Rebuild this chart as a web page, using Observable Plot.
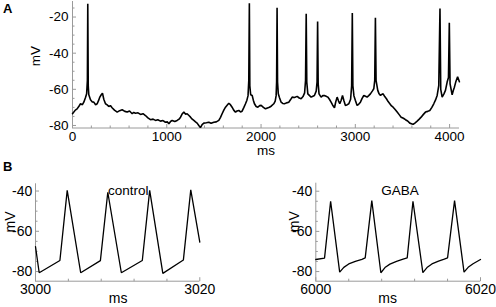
<!DOCTYPE html>
<html><head><meta charset="utf-8">
<script src="https://cdn.jsdelivr.net/npm/d3@7"></script>
<script src="https://cdn.jsdelivr.net/npm/@observablehq/plot@0.6"></script>
<style>
body{margin:0;background:#fff;}
#wrap{position:relative;width:496px;height:307px;overflow:hidden;font-family:"Liberation Sans",Arial,sans-serif;background:#fff;}
.lab{position:absolute;font-weight:bold;font-size:13px;line-height:13px;color:#000;}
</style></head><body><div id="wrap"></div>
<script>
// Panel A: membrane potential trace (ms, mV)
const aTime = [0,14,30,49,70,85,105,120,138,150,158,162,167,173,191,210,226,245,262,278,290,305,318,332,350,368,385,402,420,445,474,500,527,555,580,605,633,650,668,695,721,748,774,800,827,855,880,905,933,960,986,1005,1022,1040,1057,1085,1110,1130,1146,1165,1181,1200,1216,1235,1252,1270,1287,1305,1322,1340,1357,1375,1393,1420,1446,1470,1499,1525,1552,1570,1587,1605,1623,1640,1658,1675,1693,1710,1729,1745,1764,1782,1799,1818,1835,1850,1862,1870,1876,1881,1890,1906,1918,1930,1948,1966,1985,2001,2025,2047,2068,2089,2110,2135,2150,2160,2165,2170,2175,2183,2195,2213,2230,2248,2270,2294,2312,2330,2355,2383,2405,2425,2445,2462,2472,2479,2485,2496,2515,2531,2550,2566,2585,2594,2600,2606,2615,2637,2655,2672,2690,2708,2725,2743,2760,2779,2792,2807,2822,2835,2850,2864,2880,2895,2915,2931,2950,2961,2968,2974,2985,3000,3019,3035,3054,3072,3090,3108,3125,3142,3160,3180,3196,3206,3213,3220,3238,3252,3267,3280,3295,3312,3330,3348,3366,3384,3401,3420,3444,3465,3486,3510,3532,3555,3578,3595,3613,3635,3656,3678,3698,3720,3744,3768,3790,3812,3832,3850,3868,3885,3898,3906,3921,3940,3956,3974,3988,3997,4005,4027,4040,4051,4065,4085,4104];
const aMV = [-73.5,-72.6,-71.5,-70.8,-69.2,-68.0,-68.5,-67.1,-64.5,-62.5,-55,-12.7,-58,-63.0,-65.8,-67.0,-67.1,-68.5,-68.0,-66.0,-64.3,-63.0,-62.1,-65.5,-68.0,-68.6,-69.5,-69.0,-70.2,-71.5,-72.6,-71.8,-71.3,-72.2,-72.6,-72.0,-73.5,-72.8,-73.2,-73.0,-73.9,-73.5,-74.5,-75.8,-76.8,-76.5,-77.2,-76.8,-77.6,-77.3,-78.2,-78.0,-79.1,-77.8,-77.2,-77.8,-77.2,-76.5,-75.4,-73.5,-72.6,-73.8,-73.5,-74.5,-75.4,-76.5,-77.2,-78.0,-78.7,-80.0,-81.2,-79.5,-78.7,-78.5,-78.2,-78.8,-78.2,-78.0,-77.2,-75.5,-73.5,-71.5,-69.9,-68.8,-67.7,-68.5,-69.9,-71.5,-72.6,-72.0,-71.7,-72.5,-72.1,-70.0,-68.0,-66.0,-63.5,-55,-12.4,-58,-63.0,-63.4,-66.0,-68.0,-69.5,-69.9,-69.0,-68.9,-70.0,-70.8,-70.3,-69.9,-69.2,-68.0,-66.5,-63.5,-56,-14.9,-56,-62.5,-64.5,-67.1,-67.8,-68.0,-67.5,-67.1,-65.8,-64.3,-64.5,-63.9,-64.8,-65.2,-64.0,-62.0,-55,-18.2,-56,-62.5,-63.5,-64.3,-63.8,-63.4,-61.0,-56,-22.5,-57,-62.5,-64.3,-63.5,-63.4,-63.8,-64.3,-65.5,-67.1,-68.8,-70.2,-67.0,-64.3,-66.5,-68.0,-66.0,-63.4,-66.5,-68.9,-68.5,-68.0,-65.5,-58,-17.7,-58,-63.5,-66.0,-68.9,-68.3,-67.1,-65.0,-63.4,-63.8,-64.3,-63.5,-62.5,-61.0,-59.7,-55,-20.4,-55,-60.6,-62.5,-63.4,-62.8,-62.5,-64.0,-65.2,-66.8,-68.0,-69.2,-69.9,-71.0,-72.6,-74.0,-75.4,-76.0,-76.8,-77.5,-78.7,-79.0,-79.4,-78.5,-77.6,-76.5,-75.4,-74.0,-72.6,-72.2,-71.7,-70.0,-68.0,-66.0,-63.4,-58,-15.3,-60,-64.3,-62.5,-60.6,-56.0,-53.5,-23.2,-57,-63.0,-60.5,-58.8,-56.0,-53.0,-55.8];

// Panel B, control
const ctrlTime = [3000,3000.45,3002.97,3003.86,3005.5,3007.9,3008.8,3010.45,3013.0,3013.9,3015.5,3018.0,3018.9,3020];
const ctrlMV = [-67.6,-80.6,-74.5,-39.7,-80.6,-74.6,-40.6,-80.6,-74.5,-39.7,-80.9,-74.3,-39.4,-65.4];

// Panel B, GABA
const gabaTime = [6000,6001.06,6001.8,6002.9,6003.4,6004.0,6004.8,6005.6,6006.0,6006.8,6007.9,6008.4,6009.0,6009.8,6010.6,6011.1,6011.8,6013.0,6013.5,6014.1,6014.9,6015.6,6016.0,6016.85,6018.0,6018.5,6019.1,6020];
const gabaMV = [-74.0,-73.3,-45.0,-80.3,-77.9,-76.2,-74.9,-73.9,-73.2,-44.7,-80.6,-78.0,-76.3,-74.9,-73.8,-73.2,-45.0,-80.5,-78.0,-76.2,-74.8,-73.8,-73.2,-44.7,-80.3,-77.9,-76.1,-74.0];

// tick values
const aXMajor = [0,1000,2000,3000,4000];
const aXMinor = [200,400,600,800,1200,1400,1600,1800,2200,2400,2600,2800,3200,3400,3600,3800];
const aYMajor = [-20,-40,-60,-80];
const aYMinor = [-15,-25,-30,-35,-45,-50,-55,-65,-70,-75];
const ctrlXMajor = [3000,3020];
const ctrlXMinor = [3004,3008,3012,3016];
const gabaXMajor = [6000,6020];
const gabaXMinor = [6004,6008,6012,6016];
const bYMajor = [-40,-60,-80];
const bYMinor = [-45,-50,-55,-65,-70,-75];

const FONT = '"Liberation Sans", Arial, sans-serif';
const AXIS = "#9a9a9a";
const tickUp = len => ({draw(ctx){ctx.moveTo(0,0);ctx.lineTo(0,-len);}});
const tickRight = len => ({draw(ctx){ctx.moveTo(0,0);ctx.lineTo(len,0);}});

function panel(o){
  const data = o.t.map((t,i)=>({t, v:o.v[i]}));
  const marks = [
    Plot.ruleY([o.yDom[0]], {stroke: AXIS, strokeWidth: 1}),
    Plot.ruleX([o.xDom[0]], {stroke: AXIS, strokeWidth: 1}),
    Plot.dot(o.xMajor, {x: d=>d, y: () => o.yDom[0], symbol: tickUp(4), stroke: AXIS, fill: "none", strokeWidth: 1}),
    Plot.dot(o.xMinor, {x: d=>d, y: () => o.yDom[0], symbol: tickUp(2.5), stroke: AXIS, fill: "none", strokeWidth: 1}),
    Plot.dot(o.yMajor, {y: d=>d, x: () => o.xDom[0], symbol: tickRight(3.5), stroke: AXIS, fill: "none", strokeWidth: 1}),
    Plot.dot(o.yMinor, {y: d=>d, x: () => o.xDom[0], symbol: tickRight(2), stroke: AXIS, fill: "none", strokeWidth: 1}),
    Plot.axisX(o.xMajor, {tickSize: 0, tickPadding: o.xPad, tickFormat: d=>String(d), fontSize: o.fs, fill: "#000", label: null}),
    Plot.axisY(o.yMajor, {tickSize: 0, tickPadding: o.yPad, tickFormat: d=>String(d), fontSize: o.fs, fill: "#000", label: null}),
    Plot.line(data, {x: "t", y: "v", stroke: "#000", strokeWidth: o.sw, strokeLinejoin: "miter"}),
    Plot.text(["ms"], {frameAnchor: "bottom", dx: o.msDx, dy: o.msDy, fontSize: o.fs, fill: "#000"}),
    Plot.text(["mV"], {frameAnchor: "left", dx: o.mvDx, dy: o.mvDy, rotate: -90, fontSize: o.fs, fill: "#000"})
  ];
  if (o.title) marks.push(Plot.text([o.title], {frameAnchor: "top", dx: o.titleDx, dy: o.titleDy, fontSize: 13.5, fill: "#000"}));
  const svg = Plot.plot({
    width: o.width, height: o.height,
    marginLeft: o.mL, marginRight: o.mR, marginTop: o.mT, marginBottom: o.mB,
    x: {domain: o.xDom}, y: {domain: o.yDom},
    style: {fontFamily: FONT, fontSize: "13px", background: "transparent", color: "#000"},
    marks
  });
  svg.style.position = "absolute";
  svg.style.left = o.left + "px";
  svg.style.top = o.top + "px";
  svg.style.overflow = "visible";
  return svg;
}

const wrap = document.getElementById("wrap");
wrap.appendChild(panel({
  t: aTime, v: aMV, left: 0, top: 0, width: 496, height: 160,
  mL: 72, mR: 37, mT: 1, mB: 32.5,
  xDom: [0, 4105], yDom: [-81.4, -11.4],
  xMajor: aXMajor, xMinor: aXMinor, yMajor: aYMajor, yMinor: aYMinor,
  xPad: 3, yPad: 4, sw: 1.6, fs: 13.5,
  msDx: 0, msDy: 26.5, mvDx: -37.3, mvDy: 1.5
}));
wrap.appendChild(panel({
  t: ctrlTime, v: ctrlMV, left: 0, top: 160, width: 248, height: 147,
  mL: 35, mR: 48.7, mT: 23.3, mB: 26.3,
  xDom: [3000, 3020], yDom: [-84.8, -36.4],
  xMajor: ctrlXMajor, xMinor: ctrlXMinor, yMajor: bYMajor, yMinor: bYMinor,
  xPad: 3, yPad: 3.3, sw: 1.3, fs: 14,
  msDx: 0.5, msDy: 21.5, mvDx: -25, mvDy: 0,
  title: "control", titleDx: 10.5, titleDy: 1.5
}));
wrap.appendChild(panel({
  t: gabaTime, v: gabaMV, left: 248, top: 160, width: 248, height: 147,
  mL: 67.3, mR: 16, mT: 22.7, mB: 26.3,
  xDom: [6000, 6020], yDom: [-84.8, -36.0],
  xMajor: gabaXMajor, xMinor: gabaXMinor, yMajor: bYMajor, yMinor: bYMinor,
  xPad: 3, yPad: 3.5, sw: 1.3, fs: 14,
  msDx: -10.5, msDy: 21.5, mvDx: -21.6, mvDy: 0,
  title: "GABA", titleDx: 1.8, titleDy: 2.3
}));
for (const [txt, x, y] of [["A", 3, 1.5], ["B", 3, 160]]) {
  const d = document.createElement("div");
  d.className = "lab"; d.textContent = txt;
  d.style.left = x + "px"; d.style.top = y + "px";
  wrap.appendChild(d);
}
</script></body></html>
